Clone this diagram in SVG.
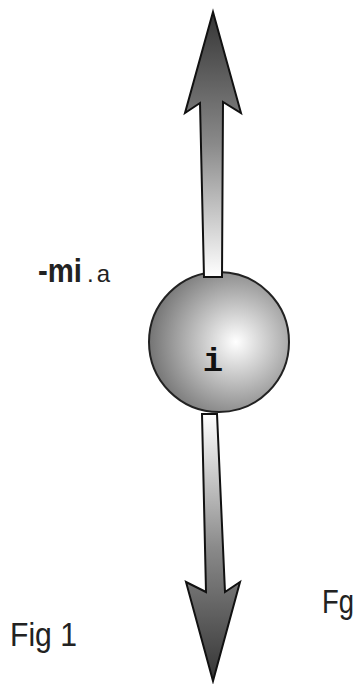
<svg xmlns="http://www.w3.org/2000/svg" width="359" height="684" viewBox="0 0 359 684">
  <defs>
    <linearGradient id="gUp" x1="0" y1="0" x2="0" y2="1">
      <stop offset="0" stop-color="#353535"/>
      <stop offset="0.5" stop-color="#8a8a8a"/>
      <stop offset="1" stop-color="#ffffff"/>
    </linearGradient>
    <linearGradient id="gDown" x1="0" y1="0" x2="0" y2="1">
      <stop offset="0" stop-color="#ffffff"/>
      <stop offset="0.5" stop-color="#8a8a8a"/>
      <stop offset="1" stop-color="#353535"/>
    </linearGradient>
    <radialGradient id="gBall" cx="0.62" cy="0.5" r="0.62">
      <stop offset="0" stop-color="#ffffff"/>
      <stop offset="1" stop-color="#747474"/>
    </radialGradient>
  </defs>
  <style>
    .arrow { stroke: #111; stroke-width: 2; stroke-linejoin: miter; }
    .lbl { font-family: "Liberation Sans", Arial, sans-serif; fill: #222; }
  </style>
  <rect width="359" height="684" fill="#ffffff"/>
  <g id="sphere">
    <circle cx="219" cy="342" r="70" fill="url(#gBall)" stroke="#222" stroke-width="2"/>
    <text x="213" y="371" text-anchor="middle" font-family="'Liberation Mono', 'Courier New', monospace" font-weight="bold" font-size="34" fill="#111">i</text>
  </g>
  <g id="connectors">
    <polygon class="arrow" fill="url(#gUp)" points="213,12 241,113 223,102 222,277 204,277 200,103 185,113"/>
    <polygon class="arrow" fill="url(#gDown)" points="202,414 217,414 225,592 240,582 213,681 186,582 206,592"/>
  </g>
  <g id="label-mia">
    <text class="lbl" x="38" y="282"><tspan font-size="33" font-weight="bold" textLength="44" lengthAdjust="spacingAndGlyphs">-mi</tspan><tspan font-size="24" dx="5" textLength="23">.a</tspan></text>
  </g>
  <g id="label-fig1">
    <text class="lbl" x="10" y="646" font-size="33" textLength="67" lengthAdjust="spacingAndGlyphs">Fig 1</text>
  </g>
  <g id="label-fg">
    <text class="lbl" x="322" y="613" font-size="33" textLength="32" lengthAdjust="spacingAndGlyphs">Fg</text>
  </g>
</svg>
